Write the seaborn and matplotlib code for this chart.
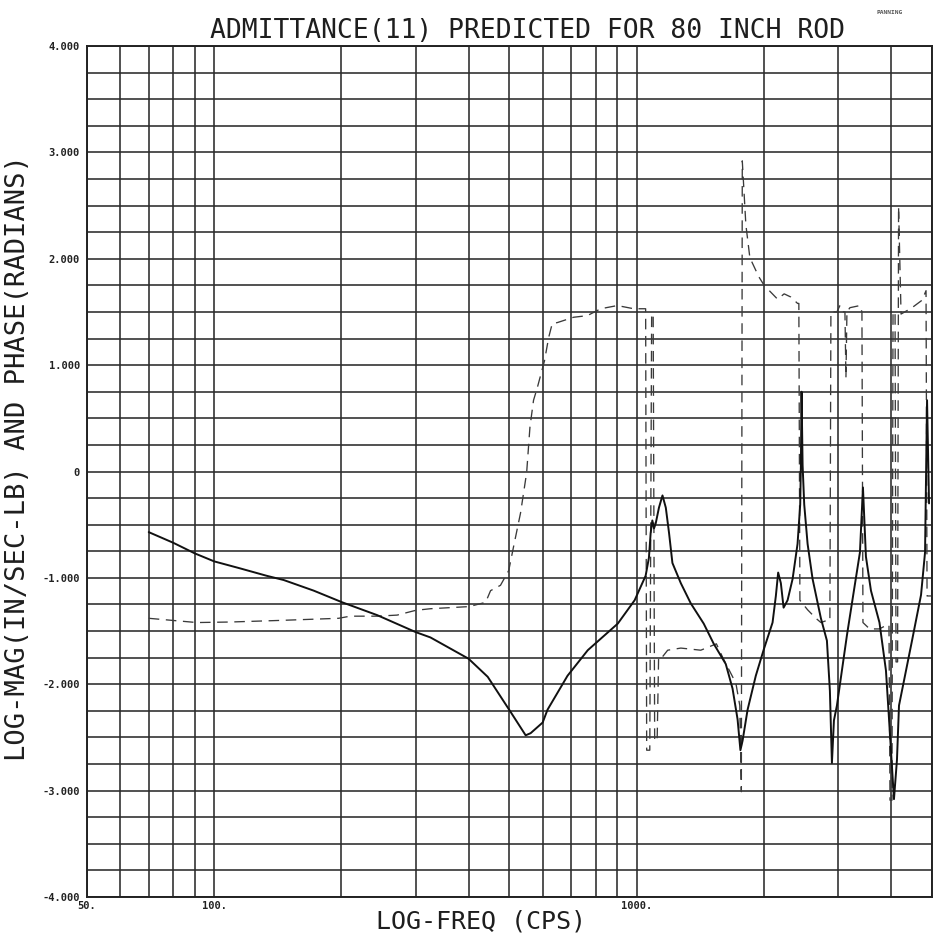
import numpy as np
import pandas as pd
import matplotlib
matplotlib.use("Agg")
import matplotlib.pyplot as plt
from matplotlib.ticker import FixedLocator, LogLocator, MultipleLocator, NullFormatter
import seaborn as sns

# ---------------- data ----------------
mag_freq = [70, 80, 90, 100, 115, 133, 146, 172, 201, 243, 300, 325, 400, 444, 503, 546,
            561, 599, 615, 686, 766, 902, 989, 1050, 1069, 1079, 1089, 1099, 1109, 1129,
            1151, 1172, 1193, 1215, 1272, 1343, 1441, 1522, 1625, 1686, 1733, 1760, 1781,
            1830, 1914, 2000, 2097, 2135, 2162, 2194, 2227, 2276, 2339, 2403, 2438, 2447,
            2456, 2470, 2492, 2538, 2608, 2729, 2820, 2866, 2898, 2930, 2978, 3145, 3267,
            3376, 3432, 3488, 3585, 3755, 3890, 3955, 4064, 4131, 4177, 4484, 4710, 4814,
            4867, 4920]
log_mag = [-0.57, -0.67, -0.77, -0.845, -0.91, -0.98, -1.02, -1.12, -1.23, -1.35, -1.51,
           -1.56, -1.76, -1.93, -2.26, -2.48, -2.46, -2.36, -2.24, -1.92, -1.68, -1.43,
           -1.21, -0.98, -0.81, -0.58, -0.46, -0.535, -0.49, -0.34, -0.225, -0.34, -0.58,
           -0.86, -1.05, -1.24, -1.43, -1.62, -1.81, -2.04, -2.33, -2.62, -2.53, -2.24,
           -1.92, -1.67, -1.42, -1.17, -0.95, -1.05, -1.28, -1.21, -1.01, -0.68, -0.31,
           0.06, 0.75, 0.06, -0.31, -0.68, -1.01, -1.38, -1.59, -2.06, -2.74, -2.34, -2.20,
           -1.54, -1.12, -0.76, -0.15, -0.80, -1.12, -1.42, -1.87, -2.32, -3.08, -2.71,
           -2.20, -1.59, -1.16, -0.76, 0.67, -0.30]

phase_freq = [70, 91, 109, 143, 197, 210, 243, 271, 300, 325, 401, 439, 451, 476, 498, 511,
              531, 549, 559, 570, 582, 605, 619, 631, 649, 709, 764, 822, 900, 984, 1050,
              1056, 1074, 1085, 1094, 1103, 1118, 1127, 1152, 1184, 1272, 1418, 1544, 1599,
              1717, 1754, 1769, 1778, 1813, 1853, 1946, 2003, 2155, 2234, 2317, 2403, 2420,
              2434, 2538, 2656, 2729, 2820, 2866, 2882, 2978, 3027, 3088, 3111, 3128, 3145,
              3197, 3376, 3413, 3432, 3559, 3752, 3925, 3955, 3977, 4020, 4043, 4088, 4110,
              4145, 4167, 4224, 4484, 4736, 4840, 4867, 4975]
phase = [-1.38, -1.42, -1.415, -1.40, -1.38, -1.36, -1.36, -1.35, -1.305, -1.29, -1.27,
         -1.23, -1.12, -1.07, -0.93, -0.71, -0.39, -0.01, 0.42, 0.67, 0.79, 1.04, 1.26,
         1.39, 1.40, 1.45, 1.465, 1.53, 1.56, 1.53, 1.53, -2.62, -2.62, 1.48, 1.48, -2.53,
         -2.53, -1.74, -1.74, -1.68, -1.66, -1.68, -1.62, -1.75, -1.99, -2.20, -3.01, 2.92,
         2.32, 2.01, 1.83, 1.75, 1.62, 1.67, 1.64, 1.58, 1.58, -1.21, -1.30, -1.38, -1.42,
         -1.40, -1.40, 1.50, 1.50, 1.56, 1.50, 1.50, 0.88, 1.50, 1.54, 1.56, 1.50, -1.42,
         -1.48, -1.48, -1.44, -1.44, -3.09, -3.09, 1.50, 1.50, -1.79, -1.79, 2.49, 1.48,
         1.54, 1.61, 1.70, -1.17, -1.17]

y_tick_values = [-4, -3, -2, -1, 0, 1, 2, 3, 4]
y_tick_labels = ["-4.000", "-3.000", "-2.000", "-1.000", "0", "1.000", "2.000", "3.000", "4.000"]
x_tick_values = [50, 100, 1000]
x_tick_labels = ["50.", "100.", "1000."]

title = "ADMITTANCE(11) PREDICTED FOR 80 INCH ROD"
xlabel = "LOG-FREQ (CPS)"
ylabel = "LOG-MAG(IN/SEC-LB) AND PHASE(RADIANS)"

# ---------------- figure ----------------
sns.set_style("white")
plt.rcParams["font.family"] = ["DejaVu Sans Mono", "DejaVu Sans"]

W, H = 934, 936
fig = plt.figure(figsize=(W / 100, H / 100), dpi=100)
ax = fig.add_axes([87 / W, 1 - 897 / H, (932 - 87) / W, (897 - 46) / H])

mag_df = pd.DataFrame({"freq": mag_freq, "val": log_mag})
ph_df = pd.DataFrame({"freq": phase_freq, "val": phase})

sns.lineplot(data=ph_df, x="freq", y="val", sort=False, estimator=None, ax=ax,
             color="#3a3a3a", linewidth=0.95, linestyle=(0, (8, 5)), zorder=3)
sns.lineplot(data=mag_df, x="freq", y="val", sort=False, estimator=None, ax=ax,
             color="#111111", linewidth=1.4, zorder=4)

ax.set_xscale("log")
ax.set_xlim(50, 5000)
ax.set_ylim(-4, 4)

ax.xaxis.set_major_locator(FixedLocator(x_tick_values))
ax.set_xticks(x_tick_values)
ax.set_xticklabels(x_tick_labels)
ax.xaxis.set_minor_locator(LogLocator(base=10, subs=np.arange(1, 10)))
ax.xaxis.set_minor_formatter(NullFormatter())

ax.set_yticks(y_tick_values)
ax.set_yticklabels(y_tick_labels)
ax.yaxis.set_minor_locator(MultipleLocator(0.25))

ax.grid(which="both", axis="both", color="#2b2b2b", linewidth=1.15, zorder=1)
ax.set_axisbelow(True)
ax.tick_params(which="both", length=0)
ax.tick_params(axis="y", pad=5, labelsize=7.5, labelcolor="#222222")
ax.tick_params(axis="x", pad=3, labelsize=7.5, labelcolor="#222222")
for lab in ax.get_xticklabels() + ax.get_yticklabels():
    lab.set_fontweight("bold")

for s in ax.spines.values():
    s.set_color("#222222")
    s.set_linewidth(1.4)

ax.set_xlabel("")
ax.set_ylabel("")

fig.text(528 / W, 1 - 38 / H, title, ha="center", va="baseline", fontsize=19,
         color="#1e1e1e")
fig.text(481 / W, 1 - 928 / H, xlabel, ha="center", va="baseline", fontsize=18,
         color="#1e1e1e")
fig.text(18 / W, 1 - 458 / H, ylabel, ha="center", va="center", rotation=90,
         fontsize=19.5, color="#1e1e1e")
fig.text(890 / W, 1 - 12 / H, "PANNING", ha="center", va="center", fontsize=4.5,
         color="#555555", fontweight="bold")

fig.savefig("out.png", dpi=100)
